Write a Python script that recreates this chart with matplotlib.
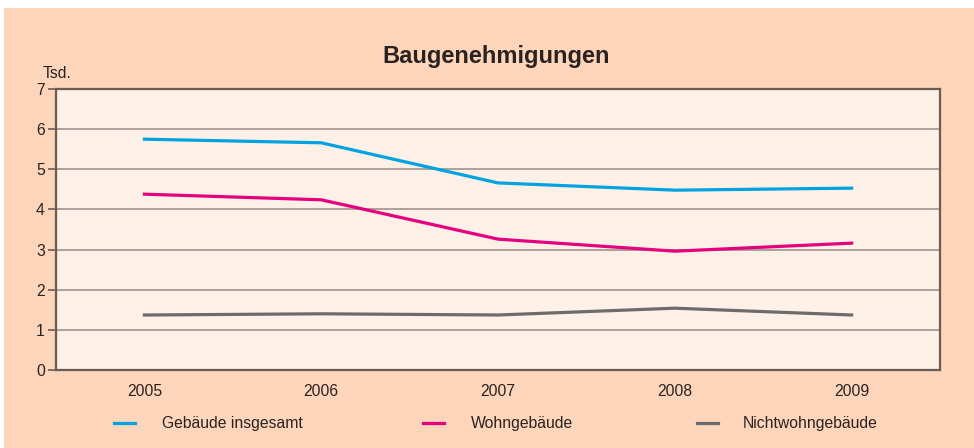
import numpy as np
import matplotlib
matplotlib.use("Agg")
import matplotlib.pyplot as plt
from matplotlib.lines import Line2D
from matplotlib.patches import Rectangle
from matplotlib.ticker import MultipleLocator

plt.rcParams['font.family'] = ['Liberation Sans', 'DejaVu Sans']

# data (Tsd.)
years = ['2005', '2006', '2007', '2008', '2009']
gebaeude = [5.75, 5.66, 4.66, 4.48, 4.53]
wohn = [4.38, 4.24, 3.26, 2.96, 3.16]
nichtwohn = [1.37, 1.40, 1.37, 1.54, 1.37]

names = ['Gebäude insgesamt', 'Wohngebäude', 'Nichtwohngebäude']
colors = ['#00A3DF', '#E5007D', '#6D6A69']

text_col = '#2B2220'
spine_col = '#6B5B55'

fig = plt.figure(figsize=(9.74, 4.48), dpi=100, facecolor='white')
# peach background, leaving the thin white border at top and left
fig.patches.append(Rectangle((4 / 974, 0), 1, 1 - 8 / 448, transform=fig.transFigure,
                             facecolor='#FDD5BB', edgecolor='none', zorder=-10))

ax = fig.add_axes([56 / 974, 1 - 370 / 448, 884 / 974, 281 / 448])
ax.set_facecolor('#FDF0E7')

x = np.arange(len(years))
for vals, c in zip([gebaeude, wohn, nichtwohn], colors):
    ax.plot(x, vals, color=c, lw=2.3, solid_joinstyle='miter', zorder=3)

ax.set_xlim(-0.5, len(years) - 0.5)
ax.set_ylim(0, 7)
ax.set_yticks(range(0, 8))
ax.yaxis.set_minor_locator(MultipleLocator(0.2))
ax.set_xticks(x)
ax.set_xticklabels(years)

ax.grid(axis='y', color='#9E948E', lw=1.2)
ax.set_axisbelow(True)
for s in ax.spines.values():
    s.set_color(spine_col)
    s.set_linewidth(1.6)

ax.tick_params(axis='y', which='major', direction='out', length=6, width=1.2,
               color=spine_col, labelsize=11.3, labelcolor=text_col, pad=2)
ax.tick_params(axis='y', which='minor', direction='out', length=1.2, width=0.5, color='#D0AC98')
ax.tick_params(axis='x', length=0, labelsize=11.3, labelcolor=text_col, pad=10)

fig.text(43 / 974, 1 - 78 / 448, 'Tsd.', fontsize=11.3, color=text_col, ha='left', va='baseline')
fig.text(496 / 974, 1 - 56 / 448, 'Baugenehmigungen', fontsize=17, fontweight='bold',
         color=text_col, ha='center', va='center')

# legend along the bottom
handle_x = [114, 423, 697]
label_x = [162, 471, 743]
ly = 1 - 423 / 448
for hx, tx, c, n in zip(handle_x, label_x, colors, names):
    fig.lines.append(Line2D([hx / 974, (hx + 21) / 974], [ly, ly], transform=fig.transFigure,
                            color=c, lw=2.3))
    fig.text(tx / 974, ly, n, fontsize=11.3, color=text_col, ha='left', va='center')

fig.savefig('out.png', dpi=100, facecolor=fig.get_facecolor())
